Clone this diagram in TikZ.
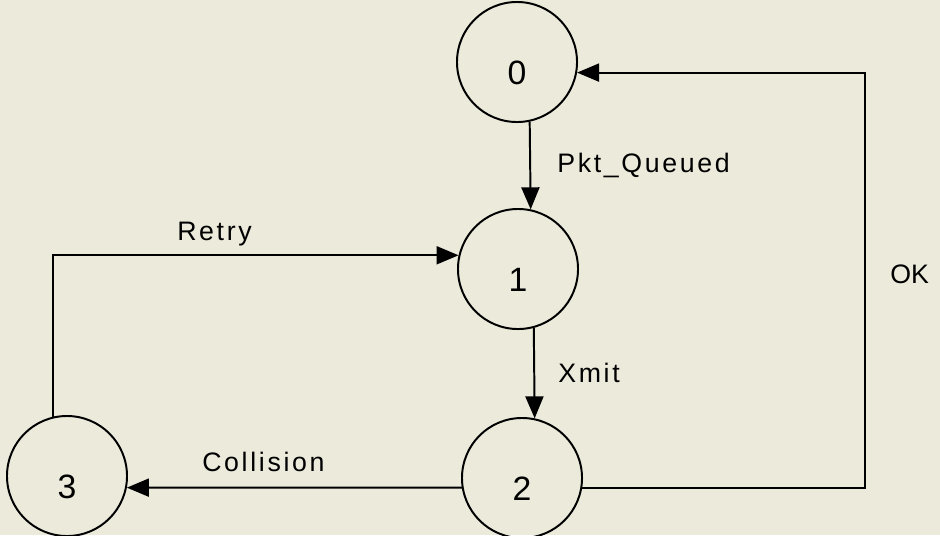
\documentclass[tikz,border=0pt]{standalone}
\usepackage{fontspec}
\setmainfont{Liberation Sans}
\newfontfamily\trackfont[LetterSpace=10]{Liberation Sans}
\usetikzlibrary{arrows.meta}
\definecolor{paper}{RGB}{236,234,218}

\begin{document}
\begin{tikzpicture}[x=0.025cm, y=-0.025cm]
    \tikzstyle{state} = [circle, draw, line width=1.4pt, minimum size=3cm,
    inner sep=0pt, font=\fontsize{24}{27}\selectfont, text height=1.1cm, text depth=0pt]
\tikzstyle{line} = [draw, line width=1.4pt, -{Triangle[length=0.55cm, width=0.45cm]}]
\tikzstyle{event} = [font=\trackfont\fontsize{19}{22}\selectfont,
    inner sep=0pt, anchor=base west]

    \fill [paper] (0,0) rectangle (940,535);
    \useasboundingbox (0,0) rectangle (940,535);
    % Place nodes
    \node [state] (st0) at (517,62) {0};
    \node [state] (st1) at (518,269) {1};
    \node [state] (st2) at (522,478) {2};
    \node [state] (st3) at (67,476) {3};
    \node [event] (queued) at (557,172) {Pkt\_Queued};
    \node [event] (retry) at (177,240) {Retry};
    \node [event] (xmit) at (558,382) {Xmit};
    \node [event] (collision) at (202,471) {Collision};
    \node [event, font=\fontsize{19}{22}\selectfont] (ok) at (890,283) {OK};
    \coordinate (okturn) at (865,0);
    % Draw edges
    \path [line] (st0.-78) -- (st1.78);
    \path [line] (st1.-75) -- (st2.78);
    \path [line] (st2.189) -- (st3.-11);
    \path [line] (st3.103) |- (st1.167);
    \path [line] (st2.-9) -| (okturn |- st0.-10) -- (st0.-10);
\end{tikzpicture}
\end{document}
